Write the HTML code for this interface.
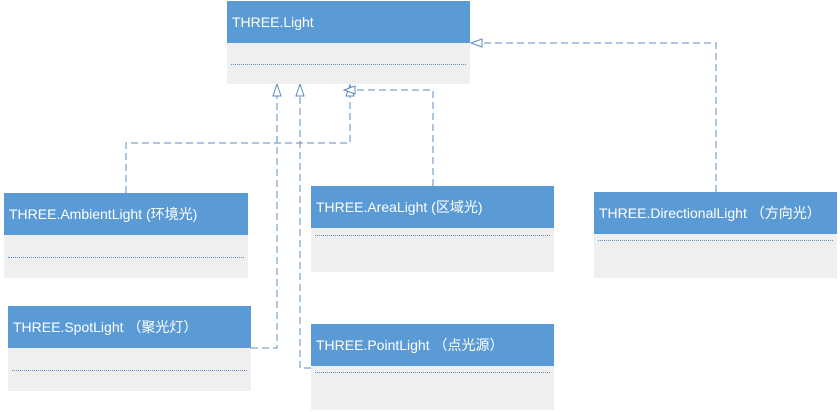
<!DOCTYPE html>
<html><head><meta charset="utf-8">
<style>
body{margin:0;width:840px;height:412px;background:#fff;position:relative;overflow:hidden;font-family:"Liberation Sans","Noto Sans CJK SC",sans-serif;}
.box{position:absolute;background:#efefef;}
.hdr{position:absolute;left:0;top:0;right:0;background:#5b9bd5;color:#fff;font-size:14px;line-height:42px;padding-left:5px;white-space:nowrap;}
.dot{position:absolute;left:4px;right:4px;border-top:1px dotted #5b8fc8;}
svg{position:absolute;left:0;top:0;}
</style></head><body>
<svg width="840" height="412">
<g fill="none" stroke="#5b8bc0" stroke-width="1" stroke-dasharray="7,4">
<polyline points="126,193 126,143 350,143 350,96"/>
<polyline points="251,348 277,348 277,96"/>
<polyline points="311,368 300,368 300,96"/>
<polyline points="433,186 433,90 355,90"/>
<polyline points="716,192 716,43 482,43"/>
</g>
<g fill="#fff" stroke="#5b8bc0" stroke-width="1">
<polygon points="350,85 346,96 354,96"/>
<polygon points="277,84 273,96 281,96"/>
<polygon points="300,84 296,96 304,96"/>
<polygon points="344,90 355,86 355,94"/>
<polygon points="471,43 482,39 482,47"/>
</g>
</svg>
<div class="box" style="left:227px;top:1px;width:243px;height:83px;"><div class="hdr">THREE.Light</div><div class="dot" style="top:63px"></div></div>
<div class="box" style="left:4px;top:193px;width:244px;height:85px;"><div class="hdr">THREE.AmbientLight (环境光)</div><div class="dot" style="top:64px"></div></div>
<div class="box" style="left:8px;top:306px;width:243px;height:85px;"><div class="hdr">THREE.SpotLight （聚光灯）</div><div class="dot" style="top:64px"></div></div>
<div class="box" style="left:311px;top:186px;width:243px;height:86px;"><div class="hdr">THREE.AreaLight (区域光)</div><div class="dot" style="top:49px"></div></div>
<div class="box" style="left:311px;top:324px;width:243px;height:86px;"><div class="hdr">THREE.PointLight （点光源）</div><div class="dot" style="top:48px"></div></div>
<div class="box" style="left:594px;top:192px;width:243px;height:86px;"><div class="hdr">THREE.DirectionalLight （方向光）</div><div class="dot" style="top:48px"></div></div>
</body></html>
